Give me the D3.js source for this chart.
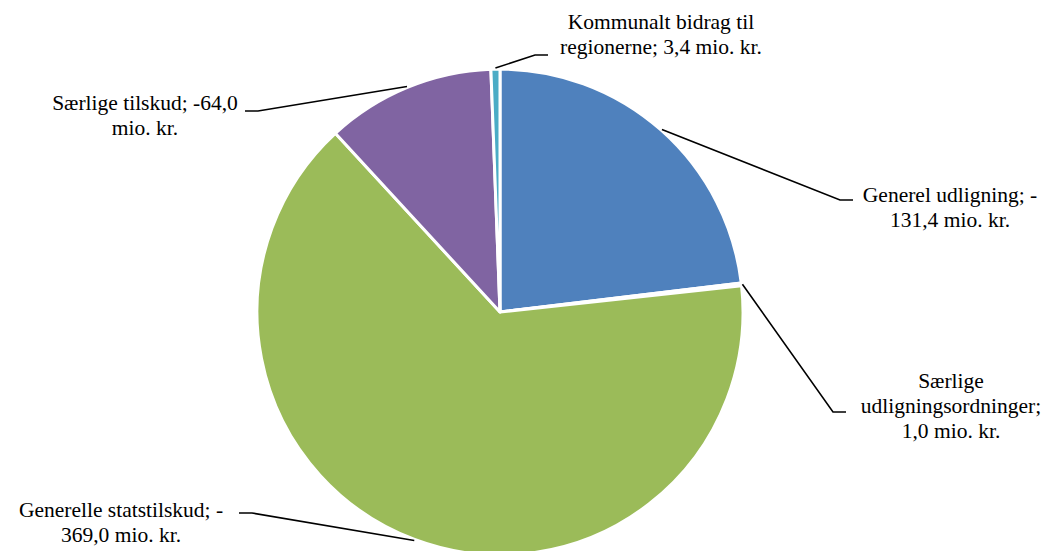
<!DOCTYPE html>
<html>
<head>
<meta charset="utf-8">
<script src="https://cdn.jsdelivr.net/npm/d3@7"></script>
<style>
  body { margin: 0; background: #fff; }
</style>
</head>
<body>
<div id="chart"></div>
<script>
// data (mio. kr.)
var categories = ["Generel udligning", "Særlige udligningsordninger", "Generelle statstilskud", "Særlige tilskud", "Kommunalt bidrag til regionerne"];
var values = [-131.4, 1.0, -369.0, -64.0, 3.4];
var labelLines = [
    ["Generel udligning; -", "131,4 mio. kr."],
    ["Særlige", "udligningsordninger;", "1,0 mio. kr."],
    ["Generelle statstilskud; -", "369,0 mio. kr."],
    ["Særlige tilskud; -64,0", "mio. kr."],
    ["Kommunalt bidrag til", "regionerne; 3,4 mio. kr."]
];
var colors = ["#4F81BD", "#C0504D", "#9BBB59", "#8064A2", "#4BACC6"];

var width = 1055, height = 551;
var cx = 500, cy = 312, radius = 243;

// label placement: elbow of the leader, which side the text sits, text centre x, first line y
var labelLayout = [
    {ex: 840, ey: 200, side: 1, tx: 950, ty: 194},
    {ex: 833, ey: 412, side: 1, tx: 951, ty: 380},
    {ex: 252, ey: 513, side: -1, tx: 121, ty: 509},
    {ex: 258, ey: 111, side: -1, tx: 145, ty: 102},
    {ex: 535, ey: 55, side: 1, tx: 661, ty: 21.5}
];

var svg = d3.select("#chart")
    .append("svg")
    .attr("width", width)
    .attr("height", height);

var g = svg.append("g")
    .attr("transform", "translate(" + cx + "," + cy + ")");

var pie = d3.pie()
    .sort(null)
    .value(function(d) { return Math.abs(d); });

var arc = d3.arc()
    .innerRadius(0)
    .outerRadius(radius);

var arcs = pie(values);

g.selectAll("path.slice")
    .data(arcs)
    .enter().append("path")
    .attr("class", "slice")
    .attr("d", arc)
    .attr("fill", function(d, i) { return colors[i]; })
    .attr("stroke", "#fff")
    .attr("stroke-width", 3)
    .attr("stroke-linejoin", "round");

// leader lines start at the middle of each slice's rim
arcs.forEach(function(d, i) {
    var a = (d.startAngle + d.endAngle) / 2;
    var r = radius + 1;
    var x0 = cx + Math.sin(a) * r,
        y0 = cy - Math.cos(a) * r;
    var L = labelLayout[i];
    svg.append("polyline")
        .attr("points", [[x0, y0], [L.ex, L.ey], [L.ex + L.side * 13, L.ey]].map(function(p) { return p.join(","); }).join(" "))
        .attr("fill", "none")
        .attr("stroke", "#000")
        .attr("stroke-width", 1.6);

    var t = svg.append("text")
        .attr("text-anchor", "middle")
        .attr("font-family", "'Liberation Serif', 'DejaVu Serif', serif")
        .attr("font-size", 21.5)
        .attr("fill", "#000")
        .attr("x", L.tx)
        .attr("y", L.ty);
    labelLines[i].forEach(function(line, j) {
        t.append("tspan")
            .attr("x", L.tx)
            .attr("dy", j === 0 ? "0.35em" : 25)
            .text(line);
    });
});
</script>
</body>
</html>
